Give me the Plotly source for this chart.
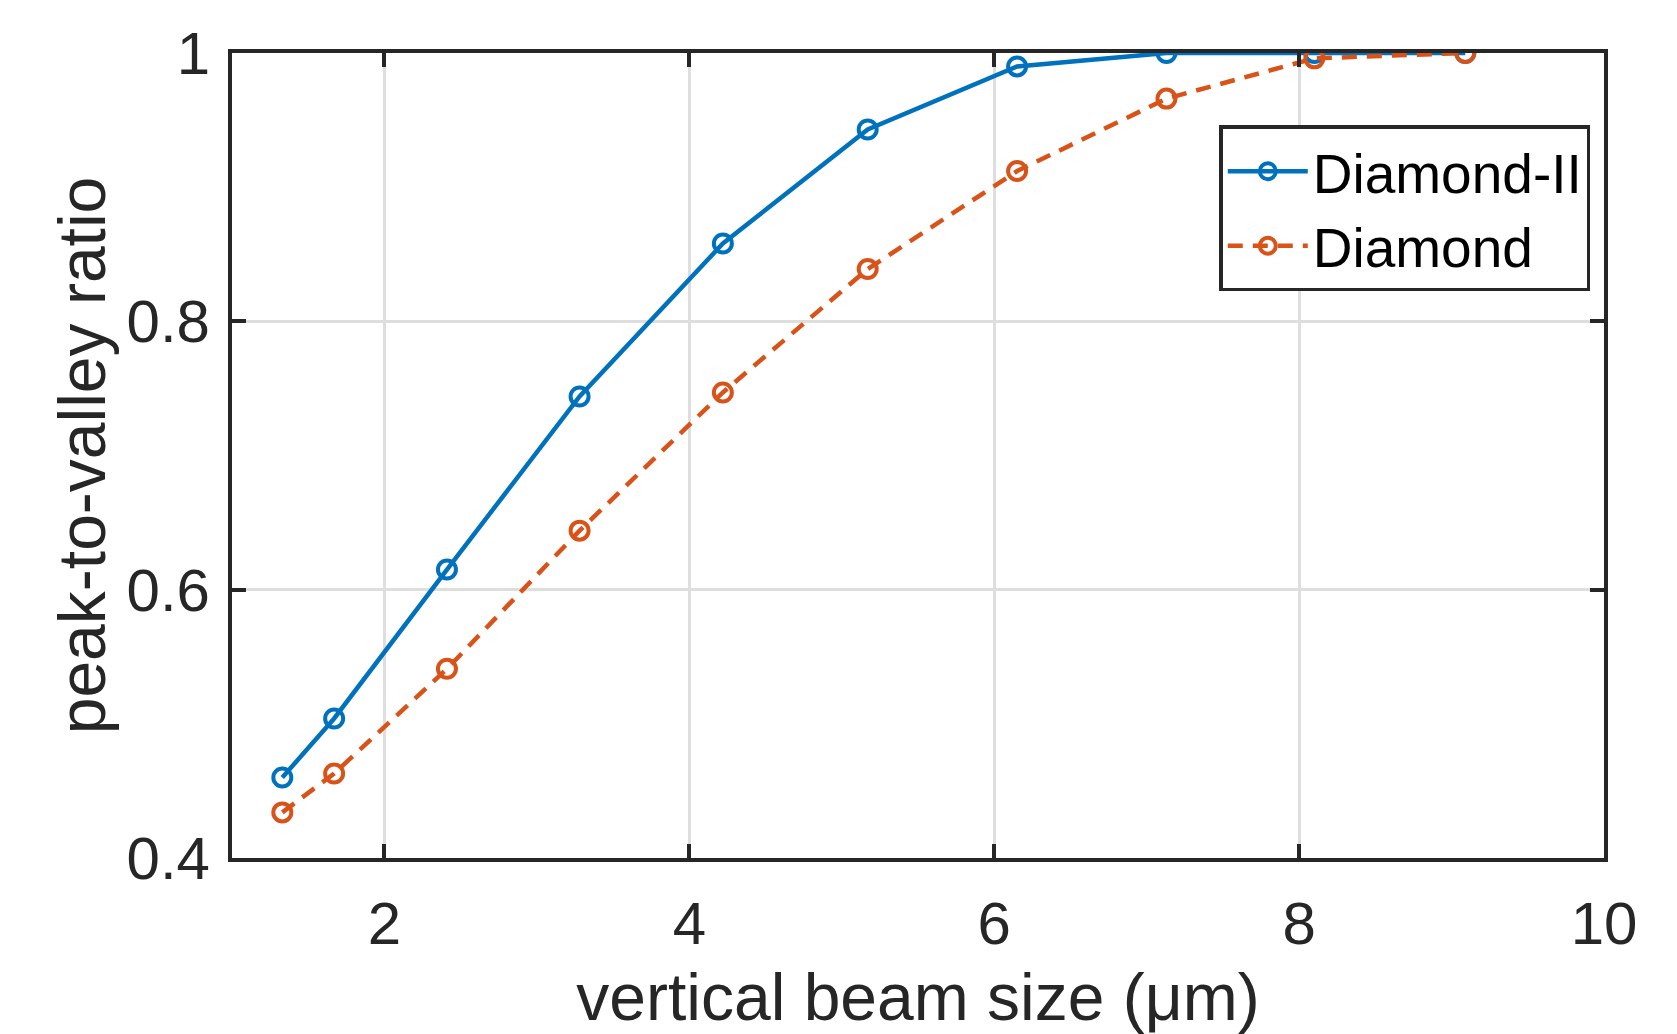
import plotly.graph_objects as go

# Data
beam_size = [1.33, 1.67, 2.41, 3.28, 4.22, 5.17, 6.15, 7.13, 8.10, 9.09]
diamond_ii = [0.460, 0.504, 0.615, 0.744, 0.858, 0.943, 0.990, 1.000, 1.000, 1.000]
diamond = [0.434, 0.463, 0.541, 0.644, 0.747, 0.839, 0.912, 0.966, 0.996, 1.000]

x_ticks = [2, 4, 6, 8, 10]
x_ticktext = ["2", "4", "6", "8", "10"]
y_ticks = [0.4, 0.6, 0.8, 1.0]
y_ticktext = ["0.4", "0.6", "0.8", "1"]

BLUE = "#0072BD"
ORANGE = "#D95319"
AXC = "#262626"
FONT = "Liberation Sans, Arial, Helvetica, sans-serif"

fig = go.Figure()
fig.add_trace(go.Scatter(
    x=beam_size, y=diamond_ii, name="Diamond-II", mode="lines+markers",
    line=dict(color=BLUE, width=4.5),
    marker=dict(symbol="circle-open", size=18, color=BLUE, line=dict(width=4, color=BLUE)),
))
fig.add_trace(go.Scatter(
    x=beam_size, y=diamond, name="Diamond", mode="lines+markers",
    line=dict(color=ORANGE, width=4.5, dash="15px,10px"),
    marker=dict(symbol="circle-open", size=18, color=ORANGE, line=dict(width=4, color=ORANGE)),
))

axis_common = dict(
    showline=True, linecolor=AXC, linewidth=4, mirror="allticks",
    ticks="inside", ticklen=14, tickwidth=4, tickcolor=AXC,
    showgrid=True, gridcolor="#DEDEDE", gridwidth=3,
    zeroline=False,
    tickfont=dict(family=FONT, size=60, color=AXC),
)

fig.update_xaxes(
    range=[1, 10], tickvals=x_ticks, ticktext=x_ticktext,
    ticklabelstandoff=10,
    title=dict(text="vertical beam size (μm)", font=dict(family=FONT, size=66, color=AXC), standoff=19),
    **axis_common,
)
fig.update_yaxes(
    range=[0.4, 1.0], tickvals=y_ticks, ticktext=y_ticktext,
    ticklabelstandoff=6,
    title=dict(text="peak-to-valley ratio", font=dict(family=FONT, size=66, color=AXC), standoff=0),
    **axis_common,
)

fig.update_layout(
    width=1669, height=1026,
    margin=dict(l=224, r=73, t=40, b=175),
    paper_bgcolor="white", plot_bgcolor="white",
    font=dict(family=FONT, color=AXC),
    legend=dict(
        x=0.99, y=0.91, xanchor="right", yanchor="top",
        bgcolor="white", bordercolor=AXC, borderwidth=3.5,
        font=dict(family=FONT, size=55, color="black"),
        itemwidth=80, tracegroupgap=0,
    ),
    showlegend=True,
)

fig.write_html("out.html")
